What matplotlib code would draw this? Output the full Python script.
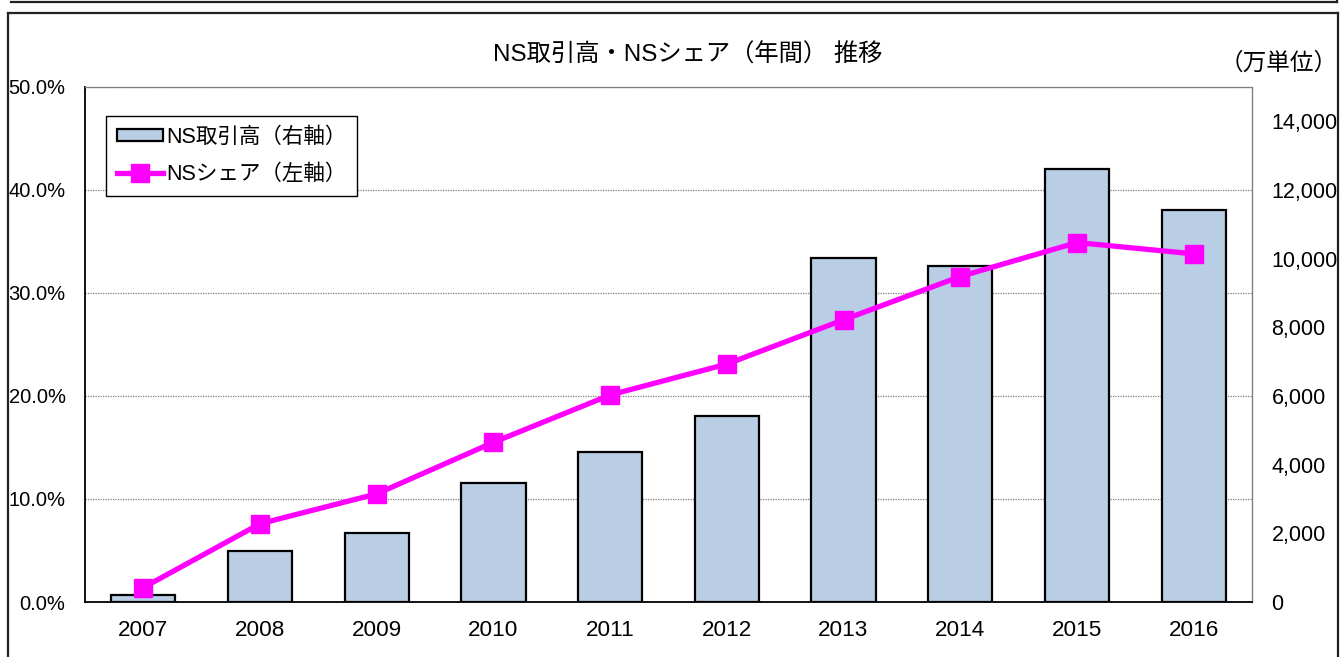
import matplotlib
matplotlib.use("Agg")
import matplotlib.pyplot as plt
from matplotlib.lines import Line2D
from matplotlib.ticker import FuncFormatter, MultipleLocator

plt.rcParams['font.family'] = ['Liberation Sans', 'Noto Sans CJK JP', 'DejaVu Sans']

# ---- data ----
years = ['2007', '2008', '2009', '2010', '2011', '2012', '2013', '2014', '2015', '2016']
volume = [210, 1490, 2020, 3460, 4380, 5420, 10030, 9780, 12600, 11410]   # 万単位 (right axis)
share = [1.4, 7.6, 10.5, 15.5, 20.1, 23.1, 27.4, 31.6, 34.9, 33.8]         # % (left axis)
title = 'NS取引高・NSシェア（年間） 推移'
unit_label = '（万単位）'
bar_label = 'NS取引高（右軸）'
line_label = 'NSシェア（左軸）'

W, H = 1341, 657
fig = plt.figure(figsize=(W / 100, H / 100), dpi=100)

x = list(range(len(years)))
L, R, B, T = 85 / W, 1252 / W, 1 - 602 / H, 1 - 87 / H
ax = fig.add_axes([L, B, R - L, T - B])      # left axis: share, gridlines
ax2 = ax.twinx()                              # right axis: bars
ax3 = ax.twinx()                              # line on top

bar_color = '#B9CDE5'
mag = '#FF00FF'

# left axis
ax.set_xlim(-0.5, len(years) - 0.5)
ax.set_ylim(0, 50)
ax.yaxis.set_major_locator(MultipleLocator(10))
ax.yaxis.set_major_formatter(FuncFormatter(lambda v, p: f'{v:.1f}%'))
ax.grid(axis='y', color='#7f7f7f', linestyle=(0, (1, 1)), linewidth=0.9)
ax.set_axisbelow(True)
ax.set_xticks(x)
ax.set_xticklabels(years, fontsize=16.2)
ax.tick_params(axis='x', length=0, pad=13)
ax.tick_params(axis='y', length=0, pad=14, labelsize=14.5)

# bars
ax2.bar(x, volume, width=0.55, color=bar_color, edgecolor='black', linewidth=1.6, zorder=3)
ax2.set_ylim(0, 15000)
ax2.set_yticks(range(0, 14001, 2000))
ax2.yaxis.set_major_formatter(FuncFormatter(lambda v, p: f'{int(v):,}'))
ax2.tick_params(axis='y', length=0, pad=14, labelsize=15.5)

# line
ax3.plot(x, share, color=mag, linewidth=3.8, marker='s', markersize=13,
         markerfacecolor=mag, markeredgecolor=mag, zorder=4, clip_on=False)
ax3.set_ylim(0, 50)
ax3.set_yticks([])
ax3.set_xlim(-0.5, len(years) - 0.5)

for a in (ax, ax2, ax3):
    for s in a.spines.values():
        s.set_visible(False)
ax.spines['left'].set_visible(True)
ax.spines['left'].set_color('black')
ax.spines['left'].set_linewidth(1.3)
ax.spines['right'].set_visible(True)
ax.spines['right'].set_color('#808080')
ax.spines['right'].set_linewidth(1.0)
ax.spines['top'].set_visible(True)
ax.spines['top'].set_color('#7f7f7f')
ax.spines['top'].set_linestyle((0, (1, 1)))
ax.spines['top'].set_linewidth(0.9)
ax3.spines['bottom'].set_visible(True)
ax3.spines['bottom'].set_color('black')
ax3.spines['bottom'].set_linewidth(1.3)

# legend
h_bar = plt.Rectangle((0, 0), 1, 1, facecolor=bar_color, edgecolor='black', linewidth=1.6)
h_line = Line2D([], [], color=mag, linewidth=3.8, marker='s', markersize=13,
                markerfacecolor=mag, markeredgecolor=mag)
leg = fig.legend([h_bar, h_line], [bar_label, line_label],
                 loc='upper left', bbox_to_anchor=(106 / W, 1 - 116 / H),
                 fontsize=15.5, frameon=True, fancybox=False, framealpha=1,
                 edgecolor='black', handlelength=2.15, handleheight=0.45,
                 handletextpad=0.15, labelspacing=0.75, borderpad=0.5,
                 borderaxespad=0)
leg.get_frame().set_linewidth(1.0)

# titles
fig.text(688 / W, 1 - 55 / H, title, ha='center', va='center', fontsize=17.5)
fig.text(1279 / W, 1 - 64 / H, unit_label, ha='center', va='center', fontsize=17)

# outer frames
fl = dict(color='#222222', linewidth=1.6, transform=fig.transFigure)
fig.add_artist(Line2D([11 / W, 1337 / W], [1 - 1.5 / H, 1 - 1.5 / H], **fl))
fig.add_artist(Line2D([1337 / W, 1337 / W], [1, 1 - 1.5 / H], **fl))
fig.add_artist(Line2D([8 / W, 1338 / W], [1 - 13 / H, 1 - 13 / H], **fl))
fig.add_artist(Line2D([8 / W, 8 / W], [0, 1 - 13 / H], **fl))
fig.add_artist(Line2D([1338 / W, 1338 / W], [0, 1 - 13 / H], **fl))

fig.savefig('out.png', dpi=100)
